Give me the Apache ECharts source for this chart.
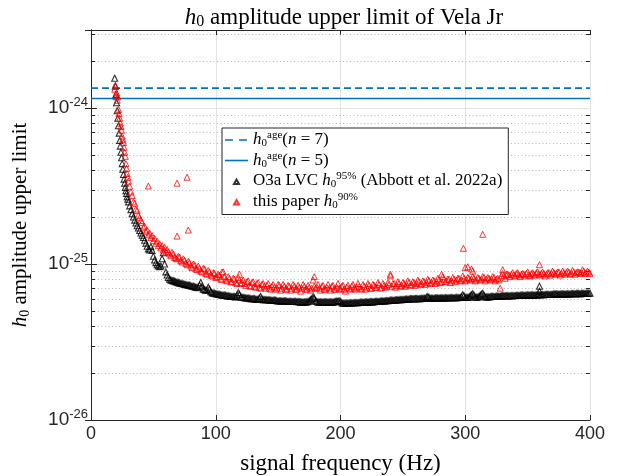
<!DOCTYPE html>
<html>
<head>
<meta charset="utf-8">
<script src="https://cdn.jsdelivr.net/npm/echarts@6/dist/echarts.min.js"></script>
<style>html,body{margin:0;padding:0;background:#fff}#c{width:624px;height:476px}</style>
</head>
<body>
<div id="c"></div>
<script>
// ---------- data ----------
const freq = [19,19.5,20,20.5,21,21.5,22,22.5,23,23.5,24,24.5,25,25.5,26,26.5,27,27.5,28,28.5,29,29.5,30,
31,32,33,34,35,36,37,38,39,40,41,42,43,44,45,46,47,48,49,50,51,52,53,54,55,56,57,58,59,60,
62,64,66,68,70,72,74,76,78,80,82,84,86,88,90,92,94,96,98,100,
102,104,106,108,110,112,114,116,118,120,122,124,126,128,130,132,134,136,138,140,
142,144,146,148,150,152,154,156,158,160,162,164,166,168,170,172,174,176,178,180,
182,184,186,188,190,192,194,196,198,200,202,204,206,208,210,212,214,216,218,220,
222,224,226,228,230,232,234,236,238,240,242,244,246,248,250,252,254,256,258,260,
262,264,266,268,270,272,274,276,278,280,282,284,286,288,290,292,294,296,298,300,
302,304,306,308,310,312,314,316,318,320,322,324,326,328,330,332,334,336,338,340,
342,344,346,348,350,352,354,356,358,360,362,364,366,368,370,372,374,376,378,380,
382,384,386,388,390,392,394,396,398,400];

const o3aH0 = [155e-26,138e-26,122e-26,108e-26,96e-26,86e-26,77e-26,69e-26,62e-26,57e-26,52e-26,48e-26,44e-26,40.5e-26,37.5e-26,35e-26,33e-26,31e-26,29.5e-26,28.3e-26,27e-26,26e-26,25e-26,
23.6e-26,22.3e-26,21e-26,20e-26,19.1e-26,18.3e-26,17.6e-26,17e-26,16.4e-26,15.8e-26,15.3e-26,14.8e-26,14.2e-26,13.6e-26,13e-26,12.5e-26,12.3e-26,12.9e-26,12.2e-26,11.2e-26,10.6e-26,10.2e-26,9.9e-26,9.7e-26,9.6e-26,9.7e-26,10.8e-26,11.8e-26,10.0e-26,8.9e-26,
8.2e-26,7.9e-26,7.8e-26,7.7e-26,7.6e-26,7.5e-26,7.45e-26,7.4e-26,7.3e-26,7.25e-26,
7.2e-26,7.1e-26,7.05e-26,7.6e-26,6.9e-26,6.8e-26,7.1e-26,6.65e-26,6.5e-26,6.45e-26,
6.4e-26,6.35e-26,6.3e-26,6.3e-26,6.25e-26,6.2e-26,6.2e-26,6.15e-26,6.55e-26,6.15e-26,
6.1e-26,6.05e-26,6.05e-26,6.0e-26,6.0e-26,5.95e-26,5.95e-26,6.2e-26,5.9e-26,5.9e-26,
5.9e-26,5.85e-26,5.85e-26,5.85e-26,5.8e-26,5.8e-26,5.8e-26,5.8e-26,5.75e-26,5.75e-26,
5.75e-26,5.75e-26,5.75e-26,5.7e-26,5.7e-26,5.7e-26,5.75e-26,5.9e-26,6.15e-26,5.8e-26,
5.7e-26,5.7e-26,5.7e-26,5.7e-26,5.7e-26,5.7e-26,5.7e-26,5.75e-26,5.8e-26,5.75e-26,
5.6e-26,5.6e-26,5.62e-26,5.62e-26,5.65e-26,5.65e-26,5.65e-26,5.68e-26,5.68e-26,5.7e-26,
5.7e-26,5.72e-26,5.72e-26,5.75e-26,5.75e-26,5.78e-26,5.8e-26,5.8e-26,5.82e-26,5.85e-26,
5.85e-26,5.88e-26,5.9e-26,5.9e-26,5.92e-26,5.95e-26,5.95e-26,5.98e-26,6.0e-26,6.0e-26,
6.0e-26,6.0e-26,6.02e-26,6.02e-26,6.2e-26,6.02e-26,6.03e-26,6.05e-26,6.05e-26,6.05e-26,
6.05e-26,6.07e-26,6.05e-26,6.07e-26,6.08e-26,6.08e-26,6.08e-26,6.1e-26,6.35e-26,6.1e-26,
6.1e-26,6.25e-26,6.45e-26,6.12e-26,6.12e-26,6.3e-26,6.5e-26,6.15e-26,6.15e-26,6.18e-26,
6.2e-26,6.2e-26,6.22e-26,6.22e-26,6.25e-26,6.25e-26,6.25e-26,6.27e-26,6.27e-26,6.28e-26,
6.28e-26,6.3e-26,6.3e-26,6.3e-26,6.32e-26,6.32e-26,6.33e-26,6.33e-26,6.35e-26,6.35e-26,
6.35e-26,6.37e-26,6.37e-26,6.38e-26,6.38e-26,6.45e-26,6.4e-26,6.42e-26,6.42e-26,6.42e-26,
6.43e-26,6.43e-26,6.45e-26,6.45e-26,6.47e-26,6.45e-26,6.48e-26,6.48e-26,6.5e-26,6.5e-26];

const paperH0 = [132e-26,140e-26,118e-26,125e-26,112e-26,118e-26,98e-26,92e-26,86e-26,80e-26,76e-26,72e-26,66e-26,63e-26,60e-26,56e-26,52e-26,49e-26,44e-26,41e-26,38e-26,36e-26,34e-26,
31.5e-26,29e-26,27.5e-26,25e-26,24.5e-26,22.5e-26,22e-26,20.5e-26,19.8e-26,19e-26,18.5e-26,17.2e-26,17.5e-26,16.2e-26,16.5e-26,15.4e-26,15.8e-26,14.8e-26,15.2e-26,14.1e-26,14.6e-26,13.6e-26,14.0e-26,13.1e-26,13.5e-26,12.7e-26,13.1e-26,12.3e-26,12.8e-26,12.0e-26,
11.9e-26,11.3e-26,11.6e-26,10.9e-26,11.2e-26,10.5e-26,10.8e-26,10.1e-26,10.4e-26,9.7e-26,
10.0e-26,9.3e-26,9.7e-26,9.0e-26,9.4e-26,8.7e-26,9.1e-26,8.5e-26,8.8e-26,8.2e-26,
8.6e-26,8.0e-26,8.9e-26,7.9e-26,8.3e-26,7.7e-26,8.1e-26,7.6e-26,8.2e-26,7.5e-26,
7.9e-26,7.3e-26,7.8e-26,7.2e-26,7.7e-26,7.1e-26,7.6e-26,7.0e-26,7.5e-26,7.0e-26,
7.5e-26,6.9e-26,7.4e-26,6.9e-26,7.4e-26,6.8e-26,7.4e-26,6.9e-26,7.3e-26,6.8e-26,
7.4e-26,6.9e-26,7.3e-26,6.7e-26,7.4e-26,6.9e-26,7.3e-26,6.8e-26,7.9e-26,7.0e-26,
7.4e-26,6.8e-26,7.3e-26,6.9e-26,7.4e-26,6.8e-26,7.3e-26,6.9e-26,7.5e-26,6.9e-26,
7.3e-26,6.7e-26,7.3e-26,6.9e-26,7.4e-26,6.9e-26,7.5e-26,7.0e-26,7.4e-26,6.9e-26,
7.5e-26,7.0e-26,7.4e-26,7.1e-26,7.6e-26,7.0e-26,7.5e-26,7.1e-26,7.6e-26,8.4e-26,
7.5e-26,7.1e-26,7.7e-26,7.2e-26,7.6e-26,7.2e-26,7.8e-26,7.3e-26,7.7e-26,7.3e-26,
7.9e-26,7.4e-26,7.8e-26,7.4e-26,8.0e-26,7.5e-26,7.9e-26,7.5e-26,8.1e-26,7.6e-26,
8.3e-26,7.7e-26,8.0e-26,7.6e-26,8.2e-26,7.7e-26,8.1e-26,7.8e-26,8.4e-26,7.8e-26,
8.2e-26,7.9e-26,8.3e-26,7.8e-26,8.2e-26,7.9e-26,8.3e-26,7.8e-26,8.2e-26,7.9e-26,
8.3e-26,7.8e-26,8.1e-26,7.0e-26,8.7e-26,8.1e-26,8.6e-26,8.3e-26,8.8e-26,8.4e-26,
8.8e-26,8.3e-26,8.7e-26,8.4e-26,8.9e-26,8.4e-26,8.8e-26,8.5e-26,8.9e-26,8.5e-26,
8.9e-26,8.4e-26,8.8e-26,8.5e-26,9.0e-26,8.6e-26,8.9e-26,8.5e-26,9.0e-26,8.6e-26,
9.0e-26,8.6e-26,9.1e-26,8.6e-26,8.9e-26,8.7e-26,9.2e-26,8.7e-26,9.0e-26,8.7e-26];

const oddFreq = [61,63,65,67,69,71,73,75,77,79,81,83,85,87,89,91,93,95,97,99,
101,103,105,107,109,111,113,115,117,119,121,123,125,127,129,131,133,135,137,139,
141,143,145,147,149,151,153,155,157,159,161,163,165,167,169,171,173,175,177,179,
181,183,185,187,189,191,193,195,197,199,201,203,205,207,209,211,213,215,217,219,
221,223,225,227,229,231,233,235,237,239,241,243,245,247,249,251,253,255,257,259,
261,263,265,267,269,271,273,275,277,279,281,283,285,287,289,291,293,295,297,299,
301,303,305,307,309,311,313,315,317,319,321,323,325,327,329,331,333,335,337,339,
341,343,345,347,349,351,353,355,357,359,361,363,365,367,369,371,373,375,377,379,
381,383,385,387,389,391,393,395,397,399];
const o3aOddH0 = [8.5e-26,8.0e-26,7.85e-26,7.75e-26,7.65e-26,7.55e-26,7.5e-26,7.4e-26,7.35e-26,7.3e-26,
7.2e-26,7.15e-26,7.1e-26,7.3e-26,7.2e-26,6.85e-26,6.8e-26,6.9e-26,6.55e-26,6.5e-26,
6.42e-26,6.38e-26,6.32e-26,6.3e-26,6.25e-26,6.22e-26,6.2e-26,6.18e-26,6.3e-26,6.4e-26,
6.12e-26,6.08e-26,6.05e-26,6.02e-26,6.0e-26,5.98e-26,5.95e-26,6.05e-26,6.0e-26,5.9e-26,
5.9e-26,5.88e-26,5.85e-26,5.85e-26,5.82e-26,5.8e-26,5.8e-26,5.8e-26,5.78e-26,5.75e-26,
5.75e-26,5.75e-26,5.73e-26,5.72e-26,5.7e-26,5.7e-26,5.72e-26,5.8e-26,6.0e-26,6.05e-26,
5.75e-26,5.7e-26,5.7e-26,5.7e-26,5.7e-26,5.7e-26,5.7e-26,5.72e-26,5.78e-26,5.8e-26,
5.65e-26,5.6e-26,5.6e-26,5.62e-26,5.63e-26,5.65e-26,5.65e-26,5.66e-26,5.68e-26,5.69e-26,
5.7e-26,5.71e-26,5.72e-26,5.73e-26,5.75e-26,5.76e-26,5.79e-26,5.8e-26,5.81e-26,5.83e-26,
5.85e-26,5.86e-26,5.89e-26,5.9e-26,5.91e-26,5.93e-26,5.95e-26,5.96e-26,5.99e-26,6.0e-26,
6.0e-26,6.0e-26,6.02e-26,6.05e-26,6.12e-26,6.1e-26,6.03e-26,6.04e-26,6.05e-26,6.05e-26,
6.06e-26,6.06e-26,6.06e-26,6.07e-26,6.08e-26,6.08e-26,6.09e-26,6.1e-26,6.2e-26,6.25e-26,
6.1e-26,6.15e-26,6.35e-26,6.3e-26,6.12e-26,6.2e-26,6.4e-26,6.3e-26,6.15e-26,6.16e-26,
6.19e-26,6.2e-26,6.21e-26,6.22e-26,6.24e-26,6.25e-26,6.25e-26,6.26e-26,6.27e-26,6.27e-26,
6.28e-26,6.29e-26,6.3e-26,6.3e-26,6.31e-26,6.32e-26,6.32e-26,6.33e-26,6.34e-26,6.35e-26,
6.35e-26,6.36e-26,6.37e-26,6.37e-26,6.38e-26,6.42e-26,6.42e-26,6.41e-26,6.42e-26,6.42e-26,
6.42e-26,6.43e-26,6.44e-26,6.45e-26,6.46e-26,6.46e-26,6.46e-26,6.48e-26,6.49e-26,6.5e-26];
const paperOddH0 = [12.4e-26,11.6e-26,11.9e-26,11.0e-26,10.8e-26,11.1e-26,10.3e-26,10.6e-26,9.9e-26,10.2e-26,
9.5e-26,9.9e-26,9.2e-26,9.4e-26,8.9e-26,9.3e-26,8.6e-26,8.9e-26,8.4e-26,8.7e-26,
8.3e-26,8.5e-26,8.0e-26,8.3e-26,7.8e-26,8.1e-26,7.7e-26,8.0e-26,7.5e-26,7.9e-26,
7.6e-26,7.5e-26,7.7e-26,7.3e-26,7.6e-26,7.2e-26,7.5e-26,7.1e-26,7.4e-26,7.2e-26,
7.3e-26,7.0e-26,7.2e-26,7.1e-26,7.0e-26,7.3e-26,7.0e-26,7.2e-26,6.9e-26,7.2e-26,
7.0e-26,7.2e-26,6.9e-26,7.1e-26,7.0e-26,7.2e-26,6.9e-26,7.1e-26,7.0e-26,7.2e-26,
7.1e-26,7.0e-26,7.2e-26,6.9e-26,7.1e-26,7.0e-26,7.2e-26,6.9e-26,7.1e-26,7.0e-26,
7.2e-26,6.9e-26,7.1e-26,7.0e-26,7.2e-26,7.0e-26,7.1e-26,7.2e-26,6.9e-26,7.2e-26,
7.1e-26,7.3e-26,7.0e-26,7.3e-26,7.1e-26,7.4e-26,7.1e-26,7.3e-26,7.2e-26,7.4e-26,
7.2e-26,7.5e-26,7.3e-26,7.5e-26,7.3e-26,7.5e-26,7.4e-26,7.6e-26,7.4e-26,7.6e-26,
7.5e-26,7.7e-26,7.5e-26,7.7e-26,7.6e-26,7.8e-26,7.6e-26,7.8e-26,7.7e-26,7.9e-26,
7.7e-26,8.0e-26,7.8e-26,8.0e-26,7.8e-26,8.0e-26,7.9e-26,8.1e-26,7.9e-26,8.1e-26,
7.9e-26,8.1e-26,8.0e-26,8.1e-26,7.9e-26,8.1e-26,8.0e-26,8.2e-26,8.0e-26,8.1e-26,
8.0e-26,8.2e-26,8.0e-26,7.9e-26,8.4e-26,8.4e-26,8.6e-26,8.5e-26,8.6e-26,8.5e-26,
8.7e-26,8.5e-26,8.6e-26,8.6e-26,8.7e-26,8.5e-26,8.7e-26,8.6e-26,8.8e-26,8.6e-26,
8.7e-26,8.7e-26,8.6e-26,8.8e-26,8.7e-26,8.8e-26,8.7e-26,8.9e-26,8.7e-26,8.8e-26,
8.8e-26,8.9e-26,8.7e-26,8.9e-26,8.8e-26,8.9e-26,8.8e-26,9.0e-26,8.8e-26,8.9e-26];

// isolated outliers
const paperOutFreq = [46,69,77,69,78,105,119,179,240,281,298.5,300,302,305,306,314,330,359.5];
const paperOutH0   = [31.6e-26,33e-26,36e-26,15.1e-26,16.5e-26,8.9e-26,8.6e-26,8.3e-26,8.6e-26,8.6e-26,12.6e-26,9.5e-26,9.6e-26,9.3e-26,9.0e-26,15.5e-26,9.2e-26,9.9e-26];
const o3aOutFreq = [359.5,359.5];
const o3aOutH0   = [7.2e-26,6.7e-26];

const h0age7 = 1.34e-24;
const h0age5 = 1.15e-24;
const freqRange = [0,400];
const yRange = [1e-26, 3.1623e-24];
const minorTicks = [2e-26,3e-26,4e-26,5e-26,6e-26,7e-26,8e-26,9e-26,
                    2e-25,3e-25,4e-25,5e-25,6e-25,7e-25,8e-25,9e-25,
                    2e-24,3e-24];

// ---------- build ----------
// ECharts' log scale rounds below 1e-20, so the axis runs in units of 1e-26
const Y_UNIT = 1e-26, Y_UNIT_EXP = -26;
const u = v => v / Y_UNIT;
const blackPts = freq.map((f,i)=>[f,u(o3aH0[i])])
  .concat(oddFreq.map((f,i)=>[f,u(o3aOddH0[i])]))
  .concat(o3aOutFreq.map((f,i)=>[f,u(o3aOutH0[i])]));
const redPts = freq.map((f,i)=>[f,u(paperH0[i])])
  .concat(oddFreq.map((f,i)=>[f,u(paperOddH0[i])]))
  .concat(paperOutFreq.map((f,i)=>[f,u(paperOutH0[i])]));

const AX = '#262626';
const BLUE = '#0072BD';
const SERIF = '"Liberation Serif","DejaVu Serif",serif';
const SANS = '"Liberation Sans",Arial,sans-serif';
const TRI_ICON = 'path://M0,0M23,7M9,6.5L11.5,2L14,6.5Z';
const SOLID_ICON = 'path://M0,0M23,7M0,2.7H23V4.3H0Z';
const DASH_ICON = 'path://M0,0M23,7M0,2.7H8V4.3H0ZM14,2.7H22V4.3H14Z';

const chart = echarts.init(document.getElementById('c'), null, {renderer:'canvas'});

const legendNames = {
  age7: '{i|h}{sub|0}{sup|age}{t|(}{i|n}{t| = 7)}',
  age5: '{i|h}{sub|0}{sup|age}{t|(}{i|n}{t| = 5)}',
  o3a: '{t|O3a LVC }{i|h}{sub|0}{sup|95%}{t| (Abbott et al. 2022a)}',
  paper: '{t|this paper }{i|h}{sub|0}{sup|90%}'
};

const richText = {
  t: {fontFamily: SERIF, fontSize: 17, color: '#000'},
  i: {fontFamily: SERIF, fontSize: 17, fontStyle: 'italic', color: '#000'},
  sub: {fontFamily: SERIF, fontSize: 11, color: '#000', padding: [7,0,0,0]},
  sup: {fontFamily: SERIF, fontSize: 11, color: '#000', padding: [0,0,9,0]}
};
const nameRich = (size) => ({
  t: {fontFamily: SERIF, fontSize: size, fontWeight: 'normal', color: '#000'},
  i: {fontFamily: SERIF, fontSize: size, fontWeight: 'normal', fontStyle: 'italic', color: '#000'},
  sub: {fontFamily: SERIF, fontSize: Math.round(size * 0.68), fontWeight: 'normal', color: '#000', padding: [9,0,0,0]}
});

const option = {
  animation: false,
  backgroundColor: '#fff',
  title: {
    text: '{i|h}{sub|0}{t| amplitude upper limit of Vela Jr}',
    left: 339, top: 0, textAlign: 'center',
    textStyle: {fontWeight: 'normal', rich: nameRich(23)}
  },
  grid: {left: 91, right: 34, top: 30, bottom: 56, containLabel: false, outerBoundsMode: 'none'},
  legend: {
    orient: 'vertical', left: 222, top: 128,
    data: [
      {name: 'age7', icon: DASH_ICON, itemStyle: {color: BLUE, borderWidth: 0}},
      {name: 'age5', icon: SOLID_ICON, itemStyle: {color: BLUE, borderWidth: 0}},
      {name: 'o3a', icon: TRI_ICON}, {name: 'paper', icon: TRI_ICON}
    ],
    backgroundColor: '#fff', borderColor: AX, borderWidth: 1, borderRadius: 0,
    padding: [2, 6, 4, 2], itemGap: 1.5, itemWidth: 23, itemHeight: 7,
    formatter: n => legendNames[n],
    textStyle: {rich: richText}
  },
  xAxis: [{
    type: 'value', min: freqRange[0], max: freqRange[1], interval: 100,
    name: 'signal frequency (Hz)', nameLocation: 'middle', nameGap: 32,
    nameTextStyle: {fontFamily: SERIF, fontSize: 23, color: '#000'},
    axisLine: {show: true, lineStyle: {color: AX, width: 1}},
    axisTick: {show: true, inside: true, length: 5, lineStyle: {color: AX}},
    axisLabel: {color: AX, fontFamily: SANS, fontSize: 18, margin: 5},
    splitLine: {show: true, lineStyle: {color: '#e3e3e3', width: 1}}
  }, {
    type: 'value', position: 'top', min: freqRange[0], max: freqRange[1], interval: 100,
    axisLine: {show: true, lineStyle: {color: AX, width: 1}},
    axisTick: {show: true, inside: true, length: 5, lineStyle: {color: AX}},
    axisLabel: {show: false}, splitLine: {show: false}
  }],
  yAxis: [{
    type: 'log', logBase: 10, min: u(yRange[0]), max: u(yRange[1]),
    name: '{i|h}{sub|0}{t| amplitude upper limit}', nameLocation: 'middle', nameGap: 59,
    nameTextStyle: {rich: nameRich(21)},
    axisLine: {show: true, lineStyle: {color: AX, width: 1}},
    axisTick: {show: true, inside: true, length: 6, lineStyle: {color: AX}},
    axisLabel: {
      showMaxLabel: false, margin: 3,
      formatter: v => '{b|10}{e|' + (Math.round(Math.log10(v)) + Y_UNIT_EXP) + '}',
      rich: {
        b: {fontFamily: SANS, fontSize: 19, color: AX},
        e: {fontFamily: SANS, fontSize: 13, color: AX, padding: [0,0,11,0]}
      }
    },
    splitLine: {show: true, lineStyle: {color: '#e3e3e3', width: 1}}
  }, {
    type: 'log', logBase: 10, min: u(yRange[0]), max: u(yRange[1]), position: 'right',
    axisLine: {show: true, lineStyle: {color: AX, width: 1}},
    axisTick: {show: true, inside: true, length: 6, lineStyle: {color: AX}},
    axisLabel: {show: false}, splitLine: {show: false}
  }],
  series: [
    {
      type: 'custom', name: 'minorGrid', silent: true, z: 1,
      xAxisIndex: 0, yAxisIndex: 0,
      data: minorTicks.map(v => [freqRange[0], u(v)]),
      renderItem: (params, api) => {
        const cs = params.coordSys;
        const p = api.coord([freqRange[0], api.value(1)]);
        const y = Math.round(p[1]) + 0.5;
        return {type: 'group', children: [
          {type: 'line', shape: {x1: cs.x, y1: y, x2: cs.x + cs.width, y2: y},
           style: {stroke: '#b5b5b5', lineWidth: 1, lineDash: [1, 2.5]}},
          {type: 'line', shape: {x1: cs.x, y1: y, x2: cs.x + 4, y2: y},
           style: {stroke: AX, lineWidth: 1}},
          {type: 'line', shape: {x1: cs.x + cs.width - 4, y1: y, x2: cs.x + cs.width, y2: y},
           style: {stroke: AX, lineWidth: 1}}
        ]};
      }
    },
    {
      type: 'line', name: 'age7', symbol: 'none', z: 3,
      data: [[freqRange[0], u(h0age7)], [freqRange[1], u(h0age7)]],
      lineStyle: {color: BLUE, width: 1.6, type: [7, 4]},
      itemStyle: {color: BLUE}
    },
    {
      type: 'line', name: 'age5', symbol: 'none', z: 3,
      data: [[freqRange[0], u(h0age5)], [freqRange[1], u(h0age5)]],
      lineStyle: {color: BLUE, width: 1.6},
      itemStyle: {color: BLUE}
    },
    {
      type: 'scatter', name: 'o3a', symbol: 'triangle', symbolSize: 6, z: 4,
      data: blackPts,
      itemStyle: {color: 'rgba(255,255,255,0)', borderColor: '#000', borderWidth: 1.1}
    },
    {
      type: 'scatter', name: 'paper', symbol: 'triangle', symbolSize: 6, z: 5,
      data: redPts,
      itemStyle: {color: 'rgba(255,255,255,0)', borderColor: '#ff0000', borderWidth: 1}
    }
  ]
};
chart.setOption(option);
</script>
</body>
</html>
